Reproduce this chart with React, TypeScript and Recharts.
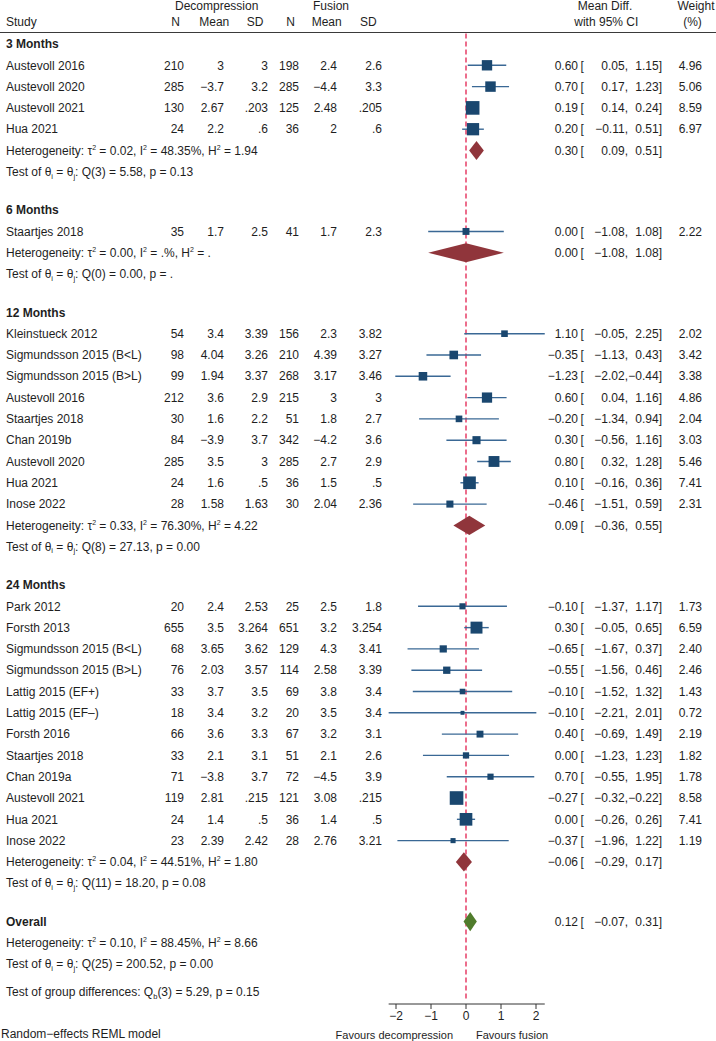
import React from 'react'
import {
  ComposedChart,
  Scatter,
  XAxis,
  YAxis,
  ErrorBar,
  ReferenceLine,
  ReferenceArea,
} from 'recharts'

// ---- data ----
const groupNames = ['3 Months', '6 Months', '12 Months', '24 Months']
const groupSizes = [4, 1, 9, 12]

const studyNames = [
  'Austevoll 2016', 'Austevoll 2020', 'Austevoll 2021', 'Hua 2021',
  'Staartjes 2018',
  'Kleinstueck 2012', 'Sigmundsson 2015 (B<L)', 'Sigmundsson 2015 (B>L)', 'Austevoll 2016',
  'Staartjes 2018', 'Chan 2019b', 'Austevoll 2020', 'Hua 2021', 'Inose 2022',
  'Park 2012', 'Forsth 2013', 'Sigmundsson 2015 (B<L)', 'Sigmundsson 2015 (B>L)',
  'Lattig 2015 (EF+)', 'Lattig 2015 (EF–)', 'Forsth 2016', 'Staartjes 2018',
  'Chan 2019a', 'Austevoll 2021', 'Hua 2021', 'Inose 2022',
]
const decN = [210, 285, 130, 24, 35, 54, 98, 99, 212, 30, 84, 285, 24, 28, 20, 655, 68, 76, 33, 18, 66, 33, 71, 119, 24, 23]
const decMean = [3, -3.7, 2.67, 2.2, 1.7, 3.4, 4.04, 1.94, 3.6, 1.6, -3.9, 3.5, 1.6, 1.58, 2.4, 3.5, 3.65, 2.03, 3.7, 3.4, 3.6, 2.1, -3.8, 2.81, 1.4, 2.39]
const decSD = [3, 3.2, 0.203, 0.6, 2.5, 3.39, 3.26, 3.37, 2.9, 2.2, 3.7, 3, 0.5, 1.63, 2.53, 3.264, 3.62, 3.57, 3.5, 3.2, 3.3, 3.1, 3.7, 0.215, 0.5, 2.42]
const fusN = [198, 285, 125, 36, 41, 156, 210, 268, 215, 51, 342, 285, 36, 30, 25, 651, 129, 114, 69, 20, 67, 51, 72, 121, 36, 28]
const fusMean = [2.4, -4.4, 2.48, 2, 1.7, 2.3, 4.39, 3.17, 3, 1.8, -4.2, 2.7, 1.5, 2.04, 2.5, 3.2, 4.3, 2.58, 3.8, 3.5, 3.2, 2.1, -4.5, 3.08, 1.4, 2.76]
const fusSD = [2.6, 3.3, 0.205, 0.6, 2.3, 3.82, 3.27, 3.46, 3, 2.7, 3.6, 2.9, 0.5, 2.36, 1.8, 3.254, 3.41, 3.39, 3.4, 3.4, 3.1, 2.6, 3.9, 0.215, 0.5, 3.21]
const meanDiff = [0.6, 0.7, 0.19, 0.2, 0.0, 1.1, -0.35, -1.23, 0.6, -0.2, 0.3, 0.8, 0.1, -0.46, -0.1, 0.3, -0.65, -0.55, -0.1, -0.1, 0.4, 0.0, 0.7, -0.27, 0.0, -0.37]
const ciLow = [0.05, 0.17, 0.14, -0.11, -1.08, -0.05, -1.13, -2.02, 0.04, -1.34, -0.56, 0.32, -0.16, -1.51, -1.37, -0.05, -1.67, -1.56, -1.52, -2.21, -0.69, -1.23, -0.55, -0.32, -0.26, -1.96]
const ciHigh = [1.15, 1.23, 0.24, 0.51, 1.08, 2.25, 0.43, -0.44, 1.16, 0.94, 1.16, 1.28, 0.36, 0.59, 1.17, 0.65, 0.37, 0.46, 1.32, 2.01, 1.49, 1.23, 1.95, -0.22, 0.26, 1.22]
const weights = [4.96, 5.06, 8.59, 6.97, 2.22, 2.02, 3.42, 3.38, 4.86, 2.04, 3.03, 5.46, 7.41, 2.31, 1.73, 6.59, 2.4, 2.46, 1.43, 0.72, 2.19, 1.82, 1.78, 8.58, 7.41, 1.19]

const groupMd = [0.3, 0.0, 0.09, -0.06]
const groupLow = [0.09, -1.08, -0.36, -0.29]
const groupHigh = [0.51, 1.08, 0.55, 0.17]
const groupHet = [
  'τ^2^ = 0.02, I^2^ = 48.35%, H^2^ = 1.94',
  'τ^2^ = 0.00, I^2^ = .%, H^2^ = .',
  'τ^2^ = 0.33, I^2^ = 76.30%, H^2^ = 4.22',
  'τ^2^ = 0.04, I^2^ = 44.51%, H^2^ = 1.80',
]
const groupTest = ['Q(3) = 5.58, p = 0.13', 'Q(0) = 0.00, p = .', 'Q(8) = 27.13, p = 0.00', 'Q(11) = 18.20, p = 0.08']

const overallEst = [0.12, -0.07, 0.31]
const overallHet = 'τ^2^ = 0.10, I^2^ = 88.45%, H^2^ = 8.66'
const overallTest = 'Q(25) = 200.52, p = 0.00'
const groupDiffTest = 'Q_b_(3) = 5.29, p = 0.15'

const xTicks = [-2, -1, 0, 1, 2]

// ---- layout ----
const W = 716
const H = 1041
const AXIS_H = 37
const ROW_PX = 21.3
const FIRST_ROW_Y = 44
const ZERO_X = 466
const UNIT_PX = 35
const GROUP_GAP = 0.8
const FOOT_GAP = 0.3

const toSlot = (py: number) => (py - FIRST_ROW_Y) / ROW_PX
const Y_DOMAIN = [toSlot(0), toSlot(H - AXIS_H)]
const X_DOMAIN = [-ZERO_X / UNIT_PX, (W - ZERO_X) / UNIT_PX]

const FONT = '"Liberation Sans", Arial, Helvetica, sans-serif'
const INK = '#1e1e1e'
const NAVY = '#1a476f'
const CI_BLUE = '#3a6895'
const MAROON = '#90353b'
const GREEN = '#507c2c'
const RED = '#e2204f'

const fmt2 = (v: number) => (v < 0 ? '−' : '') + Math.abs(v).toFixed(2)
const fmtG = (v: number) => {
  let s = String(Math.abs(v))
  if (s.startsWith('0.')) s = s.slice(1)
  return (v < 0 ? '−' : '') + s
}

// ^x^ = superscript, _x_ = subscript
function rich(str: string) {
  const parts = str.split(/(\^[^^]+\^|_[^_]+_)/).filter(Boolean)
  let shift = 0
  return parts.map((p, i) => {
    let target = 0
    let size: number | undefined
    let txt = p
    if (p.length > 2 && p[0] === '^' && p[p.length - 1] === '^') {
      target = -5
      size = 7
      txt = p.slice(1, -1)
    } else if (p.length > 2 && p[0] === '_' && p[p.length - 1] === '_') {
      target = 2.5
      size = 7.5
      txt = p.slice(1, -1)
    }
    const dy = target - shift
    shift = target
    return (
      <tspan key={i} dy={dy} fontSize={size}>
        {txt}
      </tspan>
    )
  })
}

// ---- build rows ----
type TextRow = {
  x: number
  y: number
  kind: 'head1' | 'head2' | 'title' | 'study' | 'note'
  label?: string
  idx?: number
  est?: number[]
}

const textRows: TextRow[] = [
  { x: 0, y: toSlot(5.8), kind: 'head1' },
  { x: 0, y: toSlot(22), kind: 'head2' },
]
const studyPoints: { x: number; y: number; err: number[]; w: number }[] = []
const diamonds: { md: number; lo: number; hi: number; y: number; fill: string }[] = []

let slot = 0
let k = 0
groupNames.forEach((g, gi) => {
  textRows.push({ x: 0, y: slot, kind: 'title', label: g })
  for (let j = 0; j < groupSizes[gi]; j++, k++) {
    slot += 1
    textRows.push({ x: 0, y: slot, kind: 'study', idx: k })
    studyPoints.push({
      x: meanDiff[k],
      y: slot,
      err: [meanDiff[k] - ciLow[k], ciHigh[k] - meanDiff[k]],
      w: weights[k],
    })
  }
  slot += 1
  textRows.push({
    x: 0,
    y: slot,
    kind: 'note',
    label: 'Heterogeneity: ' + groupHet[gi],
    est: [groupMd[gi], groupLow[gi], groupHigh[gi]],
  })
  diamonds.push({ md: groupMd[gi], lo: groupLow[gi], hi: groupHigh[gi], y: slot, fill: MAROON })
  slot += 1
  textRows.push({ x: 0, y: slot, kind: 'note', label: 'Test of θ_i_ = θ_j_: ' + groupTest[gi] })
  slot += 1 + GROUP_GAP
})
textRows.push({ x: 0, y: slot, kind: 'title', label: 'Overall', est: overallEst })
diamonds.push({ md: overallEst[0], lo: overallEst[1], hi: overallEst[2], y: slot, fill: GREEN })
slot += 1
textRows.push({ x: 0, y: slot, kind: 'note', label: 'Heterogeneity: ' + overallHet })
slot += 1
textRows.push({ x: 0, y: slot, kind: 'note', label: 'Test of θ_i_ = θ_j_: ' + overallTest })
slot += 1 + FOOT_GAP
textRows.push({ x: 0, y: slot, kind: 'note', label: 'Test of group differences: ' + groupDiffTest })

const axisMin = Math.min(...ciLow)
const axisMax = Math.max(...ciHigh)

// column anchors (px)
const COL = {
  left: 6,
  decN: 184,
  decMean: 224,
  decSD: 268,
  fusN: 299,
  fusMean: 337,
  fusSD: 382,
  md: 578,
  bracket: 580.5,
  lo: 628,
  hi: 662,
  wt: 702,
}

// text centred on its row: baseline sits ~0.35em below the row centre
const T = ({ y, ...rest }: any) => (
  <text fontFamily={FONT} fontSize={12} fill={INK} y={y + 4.2} {...rest} />
)

function EstCols({ y, est }: { y: number; est: number[] }) {
  return (
    <>
      <T x={COL.md} y={y} textAnchor="end">{fmt2(est[0])}</T>
      <T x={COL.bracket} y={y}>[</T>
      <T x={COL.lo} y={y} textAnchor="end">{fmt2(est[1])},</T>
      <T x={COL.hi} y={y} textAnchor="end">{fmt2(est[2])}]</T>
    </>
  )
}

function TextRowShape(props: any) {
  const { cy, payload } = props
  const r: TextRow = payload
  if (r.kind === 'head1') {
    return (
      <g>
        <T x={216.7} y={cy} textAnchor="middle">Decompression</T>
        <T x={331} y={cy} textAnchor="middle">Fusion</T>
        <T x={605} y={cy} textAnchor="middle">Mean Diff.</T>
        <T x={696} y={cy} textAnchor="middle">Weight</T>
      </g>
    )
  }
  if (r.kind === 'head2') {
    return (
      <g>
        <T x={COL.left} y={cy}>Study</T>
        <T x={180} y={cy} textAnchor="end">N</T>
        <T x={229.3} y={cy} textAnchor="end">Mean</T>
        <T x={263.3} y={cy} textAnchor="end">SD</T>
        <T x={295} y={cy} textAnchor="end">N</T>
        <T x={341.7} y={cy} textAnchor="end">Mean</T>
        <T x={376.7} y={cy} textAnchor="end">SD</T>
        <T x={606.3} y={cy} textAnchor="middle">with 95% CI</T>
        <T x={692.5} y={cy} textAnchor="middle">(%)</T>
      </g>
    )
  }
  if (r.kind === 'title') {
    return (
      <g>
        <T x={COL.left} y={cy} fontWeight="bold">{r.label}</T>
        {r.est && <EstCols y={cy} est={r.est} />}
      </g>
    )
  }
  if (r.kind === 'note') {
    return (
      <g>
        <T x={COL.left} y={cy}>{rich(r.label || '')}</T>
        {r.est && <EstCols y={cy} est={r.est} />}
      </g>
    )
  }
  const i = r.idx as number
  return (
    <g>
      <T x={COL.left} y={cy}>{studyNames[i]}</T>
      <T x={COL.decN} y={cy} textAnchor="end">{decN[i]}</T>
      <T x={COL.decMean} y={cy} textAnchor="end">{fmtG(decMean[i])}</T>
      <T x={COL.decSD} y={cy} textAnchor="end">{fmtG(decSD[i])}</T>
      <T x={COL.fusN} y={cy} textAnchor="end">{fusN[i]}</T>
      <T x={COL.fusMean} y={cy} textAnchor="end">{fmtG(fusMean[i])}</T>
      <T x={COL.fusSD} y={cy} textAnchor="end">{fmtG(fusSD[i])}</T>
      <EstCols y={cy} est={[meanDiff[i], ciLow[i], ciHigh[i]]} />
      <T x={COL.wt} y={cy} textAnchor="end">{weights[i].toFixed(2)}</T>
    </g>
  )
}

function SquareShape(props: any) {
  const { cx, cy, payload } = props
  const side = 4.65 * Math.sqrt(payload.w)
  return <rect x={cx - side / 2} y={cy - side / 2} width={side} height={side} fill={NAVY} />
}

const diamondShape = (fill: string) => (p: any) => {
  const { x, y, width, height } = p
  const pts = [
    [x, y + height / 2],
    [x + width / 2, y],
    [x + width, y + height / 2],
    [x + width / 2, y + height],
  ]
  return <polygon points={pts.map((q) => q.join(',')).join(' ')} fill={fill} />
}

function AxisTick(props: any) {
  const { x, y, payload } = props
  const v = payload.value
  return (
    <g>
      <text x={x} y={y} dy="0.71em" textAnchor="middle" fontFamily={FONT} fontSize={12} fill={INK}>
        {v < 0 ? '−' + Math.abs(v) : String(v)}
      </text>
      {v === 0 && (
        <>
          <text x={x - 13} y={y + 20} dy="0.71em" textAnchor="end" fontFamily={FONT} fontSize={11} fill={INK}>
            Favours decompression
          </text>
          <text x={x + 10} y={y + 20} dy="0.71em" textAnchor="start" fontFamily={FONT} fontSize={11} fill={INK}>
            Favours fusion
          </text>
        </>
      )}
    </g>
  )
}

function FooterLabel(props: any) {
  const vb = props.viewBox || { x: 0, y: H - AXIS_H }
  return (
    <text x={vb.x + 1} y={vb.y + 33.5} fontFamily={FONT} fontSize={12} fill={INK}>
      Random−effects REML model
    </text>
  )
}

export default function App() {
  return (
    <div style={{ position: 'absolute', left: 0, top: 0, width: W, height: H, background: '#fff' }}>
      <ComposedChart width={W} height={H} margin={{ top: 0, right: 0, bottom: 0, left: 0 }}>
        <XAxis
          type="number"
          dataKey="x"
          domain={X_DOMAIN}
          ticks={xTicks}
          interval={0}
          axisLine={false}
          tickLine={{ stroke: '#333' }}
          tickSize={5}
          height={AXIS_H}
          tick={<AxisTick />}
          label={FooterLabel}
        />
        <YAxis type="number" dataKey="y" domain={Y_DOMAIN} reversed hide />
        <ReferenceLine y={toSlot(32.5)} stroke="#3a3a3a" strokeWidth={1.2} />
        <ReferenceLine
          segment={[
            { x: 0, y: toSlot(33.5) },
            { x: 0, y: toSlot(1001) },
          ]}
          stroke={RED}
          strokeWidth={1.3}
          strokeDasharray="5 3"
        />
        <ReferenceLine
          segment={[
            { x: axisMin, y: Y_DOMAIN[1] },
            { x: axisMax, y: Y_DOMAIN[1] },
          ]}
          stroke="#333"
          ifOverflow="visible"
        />
        {diamonds.map((d, i) => (
          <ReferenceArea
            key={i}
            x1={d.lo}
            x2={d.hi}
            y1={d.y - 0.45}
            y2={d.y + 0.45}
            fill={d.fill}
            zIndex={650}
            shape={diamondShape(d.fill)}
          />
        ))}
        <Scatter data={studyPoints} shape={<SquareShape />} isAnimationActive={false}>
          <ErrorBar dataKey="err" direction="x" width={0} stroke={CI_BLUE} strokeWidth={1.4} />
        </Scatter>
        <Scatter data={textRows} shape={<TextRowShape />} isAnimationActive={false} />
      </ComposedChart>
    </div>
  )
}
